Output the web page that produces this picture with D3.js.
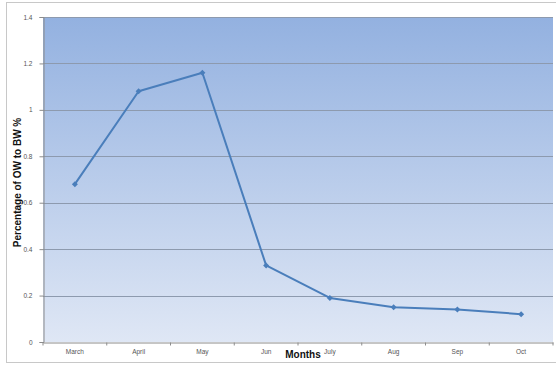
<!DOCTYPE html>
<html>
<head>
<meta charset="utf-8">
<script src="https://cdn.jsdelivr.net/npm/d3@7"></script>
<style>
  html, body { margin: 0; padding: 0; background: #fff; }
  svg { display: block; }
</style>
</head>
<body>
<svg id="chart" width="556" height="366"></svg>
<script>
// Monthly share of OW relative to BW, in percent
const months = ["March", "April", "May", "Jun", "July", "Aug", "Sep", "Oct"];
const values = [0.68, 1.08, 1.16, 0.33, 0.19, 0.15, 0.14, 0.12];
const yTicks = [0, 0.2, 0.4, 0.6, 0.8, 1, 1.2, 1.4];

const svg = d3.select("#chart");
const W = 556, H = 366;
const plot = { left: 43, right: 553, top: 17, bottom: 342 };

// Outer chart frame
svg.append("rect")
  .attr("x", 6.5).attr("y", 2.5)
  .attr("width", W + 10).attr("height", 360)
  .attr("fill", "#fff").attr("stroke", "#c8c8c8").attr("stroke-width", 1);

const x = d3.scaleBand().domain(months).range([plot.left, plot.right]).padding(0);
const y = d3.scaleLinear().domain([0, 1.4]).range([plot.bottom, plot.top]);

// Plot-area gradient fill
const defs = svg.append("defs");
const grad = defs.append("linearGradient").attr("id", "bg")
  .attr("x1", 0).attr("y1", 0).attr("x2", 0).attr("y2", 1);
grad.append("stop").attr("offset", "0%").attr("stop-color", "#93b1e0");
grad.append("stop").attr("offset", "100%").attr("stop-color", "#dfe7f5");

svg.append("rect")
  .attr("x", plot.left).attr("y", plot.top)
  .attr("width", plot.right - plot.left).attr("height", plot.bottom - plot.top)
  .attr("fill", "url(#bg)");

// Horizontal gridlines
svg.append("g").selectAll("line")
  .data(yTicks.filter(d => d > 0))
  .join("line")
  .attr("x1", plot.left).attr("x2", plot.right)
  .attr("y1", d => Math.round(y(d)) + 0.5).attr("y2", d => Math.round(y(d)) + 0.5)
  .attr("stroke", "#8d9aae").attr("stroke-width", 1);

// Y axis
const yAxis = svg.append("g")
  .attr("transform", `translate(${plot.left + 0.5},0)`)
  .call(d3.axisLeft(y).tickValues(yTicks).tickSize(4).tickFormat(d => String(d)));
yAxis.select(".domain").attr("stroke", "#8c8c8c");
yAxis.selectAll(".tick line").attr("stroke", "#8c8c8c");
yAxis.selectAll(".tick text")
  .attr("x", -11)
  .attr("fill", "#555").attr("font-family", "Liberation Sans, Arial, sans-serif").attr("font-size", 6.5);

// X axis with ticks on category boundaries
const xAxis = svg.append("g")
  .attr("transform", `translate(0,${plot.bottom + 0.5})`)
  .call(d3.axisBottom(x).tickSize(0));
xAxis.select(".domain").attr("stroke", "#8c8c8c");
xAxis.selectAll(".tick text")
  .attr("dy", 0).attr("y", 11)
  .attr("fill", "#555").attr("font-family", "Liberation Sans, Arial, sans-serif").attr("font-size", 6.5);
xAxis.append("g").selectAll("line")
  .data(months.map(m => x(m)).concat([plot.right]))
  .join("line")
  .attr("x1", d => d).attr("x2", d => d)
  .attr("y1", 0).attr("y2", 3)
  .attr("stroke", "#8c8c8c");

// Data line
const line = d3.line()
  .x((d, i) => x(months[i]) + x.bandwidth() / 2)
  .y(d => y(d));
svg.append("path")
  .datum(values)
  .attr("d", line)
  .attr("fill", "none")
  .attr("stroke", "#4a7ebb")
  .attr("stroke-width", 2)
  .attr("stroke-linejoin", "round");

// Diamond markers
svg.append("g").selectAll("path")
  .data(values)
  .join("path")
  .attr("transform", (d, i) => `translate(${x(months[i]) + x.bandwidth() / 2},${y(d)}) rotate(45)`)
  .attr("d", d3.symbol(d3.symbolSquare, 18))
  .attr("fill", "#4a7ebb");

// Axis titles
svg.append("text")
  .attr("transform", `translate(21,${(plot.top + plot.bottom) / 2 + 3}) rotate(-90)`)
  .attr("text-anchor", "middle")
  .attr("font-family", "Liberation Sans, Arial, sans-serif")
  .attr("font-weight", "bold").attr("font-size", 10).attr("fill", "#111")
  .text("Percentage of OW to BW %");

svg.append("text")
  .attr("x", 303).attr("y", 358)
  .attr("text-anchor", "middle")
  .attr("font-family", "Liberation Sans, Arial, sans-serif")
  .attr("font-weight", "bold").attr("font-size", 10).attr("fill", "#111")
  .text("Months");
</script>
</body>
</html>
